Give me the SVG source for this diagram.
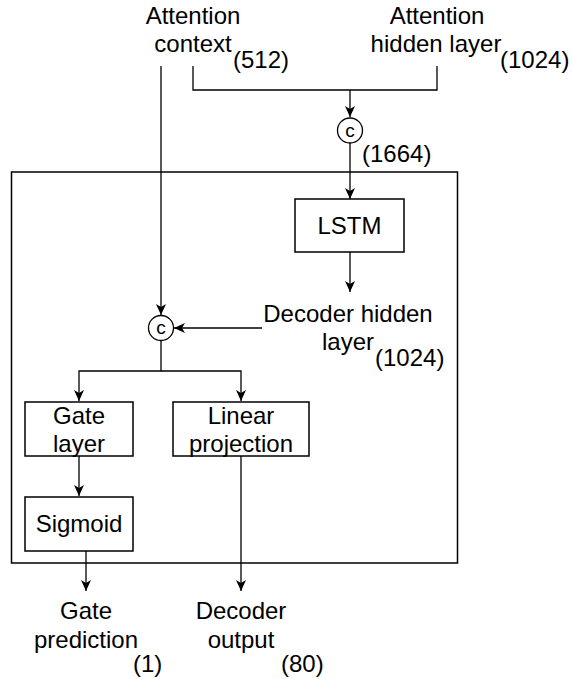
<svg xmlns="http://www.w3.org/2000/svg" width="573" height="679" viewBox="0 0 573 679">
<style>
text{font-family:"Liberation Sans",Arial,sans-serif;font-size:24px;fill:#000}
.m{text-anchor:middle}
.c{font-size:19px;text-anchor:middle}
.box{fill:#fff;stroke:#000;stroke-width:1.5}
.ln{fill:none;stroke:#000;stroke-width:1.3}
</style>
<defs>
<marker id="ah" markerUnits="userSpaceOnUse" markerWidth="11" markerHeight="11" viewBox="0 0 11 11" refX="11" refY="5.5" orient="auto">
<path d="M0,0.5 L11,5.5 L0,10.5 L3,5.5 z" fill="#000"/>
</marker>
</defs>
<rect id="outer" x="11.5" y="172" width="446" height="391" fill="none" stroke="#000" stroke-width="1.5"/>
<g id="connectors">
<path class="ln" d="M193,66 V90 H437 V66"/>
<path class="ln" d="M350,90 V117" marker-end="url(#ah)"/>
<path class="ln" d="M350,143 V199" marker-end="url(#ah)"/>
<path class="ln" d="M350,252 V292" marker-end="url(#ah)"/>
<path class="ln" d="M161,66 V315" marker-end="url(#ah)"/>
<path class="ln" d="M262,328 H174" marker-end="url(#ah)"/>
<path class="ln" d="M161,341 V371 H79 V401" marker-end="url(#ah)"/>
<path class="ln" d="M161,371 H241 V401" marker-end="url(#ah)"/>
<path class="ln" d="M79,456 V496" marker-end="url(#ah)"/>
<path class="ln" d="M86,551 V591" marker-end="url(#ah)"/>
<path class="ln" d="M241,456 V591" marker-end="url(#ah)"/>
</g>
<g id="attention-context">
<text class="m" x="193" y="24">Attention</text>
<text class="m" x="193" y="52">context</text>
<text x="233" y="68">(512)</text>
</g>
<g id="attention-hidden">
<text class="m" x="437" y="24">Attention</text>
<text class="m" x="436" y="52">hidden layer</text>
<text x="500" y="68">(1024)</text>
</g>
<g id="concat1">
<circle cx="350" cy="130.5" r="12.5" fill="#fff" stroke="#000" stroke-width="1.3"/>
<text class="c" x="350" y="136.5">c</text>
</g>
<text id="dim1664" x="362" y="162">(1664)</text>
<g id="lstm">
<rect class="box" x="295" y="199" width="109" height="53"/>
<text class="m" x="349.5" y="234">LSTM</text>
</g>
<g id="decoder-hidden">
<text class="m" x="348" y="322">Decoder hidden</text>
<text class="m" x="348" y="350">layer</text>
<text x="375" y="366">(1024)</text>
</g>
<g id="concat2">
<circle cx="161" cy="328" r="12.5" fill="#fff" stroke="#000" stroke-width="1.3"/>
<text class="c" x="161" y="334">c</text>
</g>
<g id="gate-layer">
<rect class="box" x="25" y="402" width="108" height="54"/>
<text class="m" x="79" y="424">Gate</text>
<text class="m" x="79" y="452">layer</text>
</g>
<g id="linear-projection">
<rect class="box" x="173" y="402" width="136" height="54"/>
<text class="m" x="241" y="424">Linear</text>
<text class="m" x="241" y="452">projection</text>
</g>
<g id="sigmoid">
<rect class="box" x="25" y="497" width="108" height="54"/>
<text class="m" x="79" y="532">Sigmoid</text>
</g>
<g id="gate-prediction">
<text class="m" x="86" y="619">Gate</text>
<text class="m" x="86" y="648">prediction</text>
<text x="133" y="672">(1)</text>
</g>
<g id="decoder-output">
<text class="m" x="241" y="619">Decoder</text>
<text class="m" x="241" y="648">output</text>
<text x="281" y="672">(80)</text>
</g>
</svg>
